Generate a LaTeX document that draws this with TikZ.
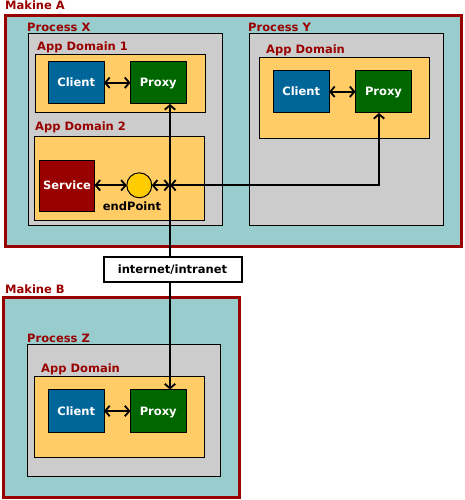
\documentclass[tikz,border=0pt]{standalone}
\usepackage{fontspec}
\setmainfont{DejaVu Sans}
\usetikzlibrary{arrows.meta}
\definecolor{machfill}{HTML}{99CCCC}
\definecolor{darkred}{HTML}{990000}
\definecolor{procfill}{HTML}{CCCCCC}
\definecolor{adfill}{HTML}{FFCC66}
\definecolor{clientfill}{HTML}{006699}
\definecolor{proxyfill}{HTML}{006600}
\definecolor{epfill}{HTML}{FFCC00}
\newcommand{\dfont}{\bfseries\fontsize{11.5}{13}\selectfont}
\tikzset{
  base/.style={rectangle, inner sep=0pt, outer sep=0pt},
  machine/.style={base, draw=darkred, fill=machfill, line width=3pt},
  process/.style={base, draw=black, fill=procfill, line width=1pt},
  appdom/.style={base, draw=black, fill=adfill, line width=1pt},
  comp/.style={base, draw=black, line width=1pt, minimum width=55.5pt, minimum height=42.5pt, text=white, font=\dfont, text height=8.4pt, text depth=0pt},
  clientbox/.style={comp, fill=clientfill},
  proxybox/.style={comp, fill=proxyfill},
  lbl/.style={anchor=base west, inner sep=0pt, text=darkred, font=\dfont},
  conn/.style={line width=1.8pt, draw=black},
  barb/.tip={Straight Barb[length=4.5pt,width=10.5pt]},
  both/.style={conn, barb-barb},
  toend/.style={conn, -barb},
}
\begin{document}
\begin{tikzpicture}[x=1pt,y=-1pt]
\useasboundingbox (0,0) rectangle (465,500);
% Machine A
\node[lbl] (lma) at (5,10) {Makine A};
\node[machine, minimum width=456pt, minimum height=231pt] (ma) at (233.5,131) {};
% Process X
\node[lbl] (lpx) at (27,31.5) {Process X};
\node[process, minimum width=193.5pt, minimum height=191.5pt] (px) at (125.25,129.25) {};
\node[lbl] (lad1) at (37,51) {App Domain 1};
\node[appdom, minimum width=169.5pt, minimum height=58.5pt] (ad1) at (120.25,83.75) {};
\node[clientbox] (cx) at (76.25,82.75) {Client};
\node[proxybox] (prx) at (158.25,82.75) {Proxy};
\node[lbl] (lad2) at (35,130) {App Domain 2};
\node[appdom, minimum width=169.5pt, minimum height=84pt] (ad2) at (119.25,178) {};
\node[comp, fill=darkred, minimum width=55pt, minimum height=50.5pt] (svc) at (67,185.75) {Service};
\node[circle, draw=black, line width=1pt, fill=epfill, minimum size=25pt, inner sep=0pt, outer sep=0pt] (ep) at (139.3,185.3) {};
\node[anchor=base, inner sep=0pt, font=\dfont] (lep) at (132,210.5) {endPoint};
% Process Y
\node[lbl] (lpy) at (248,31.5) {Process Y};
\node[process, minimum width=193.5pt, minimum height=191.5pt] (py) at (346.25,129.25) {};
\node[lbl] (lady) at (266,54) {App Domain};
\node[appdom, minimum width=169.5pt, minimum height=80.5pt] (ady) at (344.25,97.75) {};
\node[clientbox] (cy) at (301.25,91.75) {Client};
\node[proxybox, minimum width=56pt] (pry) at (383.5,91.75) {Proxy};
% internet
\node[base, draw=black, fill=white, line width=2pt, minimum width=138pt, minimum height=24.5pt, font=\dfont, text height=8.4pt, text depth=0pt, text=black] (net) at (172.5,269.25) {internet/intranet};
% Machine B
\node[lbl] (lmb) at (5,293.3) {Makine B};
\node[machine, minimum width=236pt, minimum height=200pt] (mb) at (121.5,397.5) {};
\node[lbl] (lpz) at (27,342.5) {Process Z};
\node[process, minimum width=193pt, minimum height=131.5pt] (pz) at (124,410.25) {};
\node[lbl] (ladz) at (41,372.5) {App Domain};
\node[appdom, minimum width=169.5pt, minimum height=80.5pt] (adz) at (119.25,416.75) {};
\node[clientbox, minimum height=43pt] (cz) at (76.25,411) {Client};
\node[proxybox, minimum height=43pt] (prz) at (158.25,411) {Proxy};
% coordinates
\coordinate (vx) at (170,0);
\coordinate (cross) at (170,185.3);
\coordinate (ybend) at (379,185.3);
% connectors
\draw[both] (cx) -- (prx);
\draw[both] (cy) -- (pry);
\draw[both] (cz) -- (prz);
\draw[both] (svc.east |- ep) -- (ep.west);
\draw[both] (ep.east) -- (cross);
\draw[both] (pry.south -| ybend) -- (ybend) -- (cross);
\draw[toend] (net.north -| vx) -- (prx.south -| vx);
\draw[toend] (net.south -| vx) -- (prz.north -| vx);
\end{tikzpicture}
\end{document}
